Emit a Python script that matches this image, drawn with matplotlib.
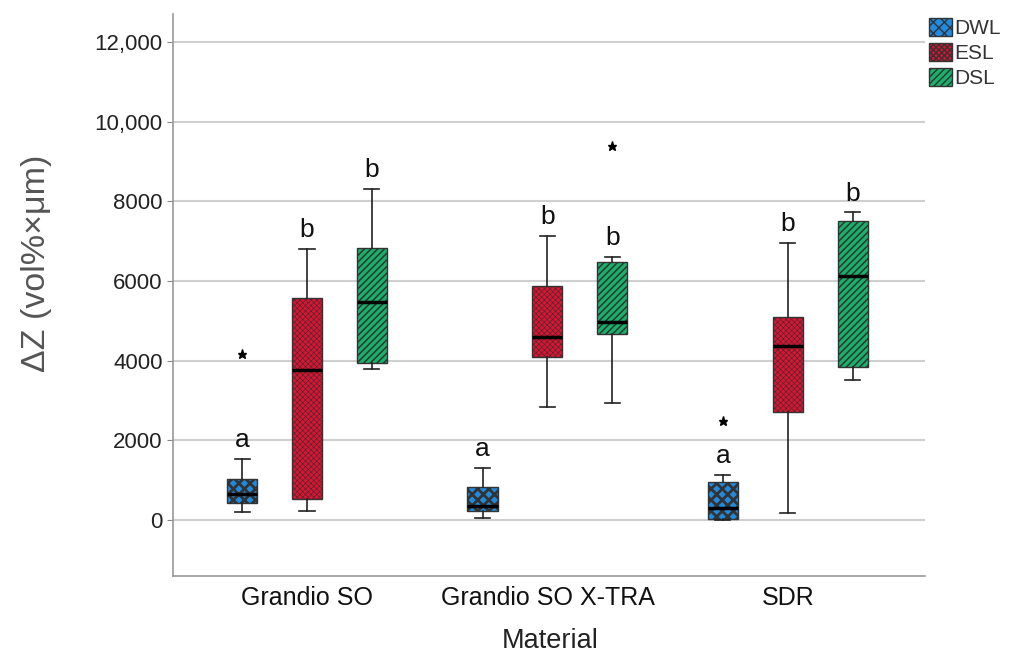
import matplotlib
matplotlib.use("Agg")
import matplotlib.pyplot as plt
from matplotlib.patches import Patch

plt.rcParams['font.family'] = ['Liberation Sans', 'DejaVu Sans']

materials = ["Grandio SO", "Grandio SO X-TRA", "SDR"]
groups = ["DWL", "ESL", "DSL"]

# per group, per material: [whislo, q1, med, q3, whishi]
dwl_stats = [[200, 430, 650, 1030, 1530],
             [60, 225, 350, 835, 1300],
             [0, 25, 310, 960, 1130]]
esl_stats = [[225, 525, 3765, 5570, 6800],
             [2830, 4100, 4590, 5880, 7130],
             [170, 2700, 4380, 5090, 6960]]
dsl_stats = [[3790, 3940, 5470, 6820, 8310],
             [2930, 4670, 4980, 6480, 6610],
             [3510, 3850, 6130, 7510, 7720]]
dwl_fliers = [[4170], [], [2490]]
esl_fliers = [[], [], []]
dsl_fliers = [[], [9390], []]
dwl_letters = ["a", "a", "a"]
esl_letters = ["b", "b", "b"]
dsl_letters = ["b", "b", "b"]

ytick_vals = [0, 2000, 4000, 6000, 8000, 10000, 12000]
ytick_labels = ["0", "2000", "4000", "6000", "8000", "10,000", "12,000"]

colors = ["#1f8be0", "#e3102f", "#17b36b"]
hatches = ["xxx", "xxxxxx", "/////"]
hatchcolors = ["#0a0a0a", "#8a0a1a", "#0a2a18"]
hatchlws = [2.0, 0.45, 1.1]

all_stats = [dwl_stats, esl_stats, dsl_stats]
all_fliers = [dwl_fliers, esl_fliers, dsl_fliers]
all_letters = [dwl_letters, esl_letters, dsl_letters]


def style_hatch(p, gi):
    try:
        p.set_hatchcolor(hatchcolors[gi])
    except Exception:
        pass
    try:
        p.set_hatch_linewidth(hatchlws[gi])
    except Exception:
        pass


fig = plt.figure(figsize=(10.12, 6.55), dpi=100)
ax = fig.add_axes([0.171, 0.1206, 0.743, 0.858])

offsets = [-0.27, 0.0, 0.27]
width = 0.125
for gi, (stats, fl, letters) in enumerate(zip(all_stats, all_fliers, all_letters)):
    bstats = []
    for s, f in zip(stats, fl):
        bstats.append(dict(whislo=s[0], q1=s[1], med=s[2], q3=s[3], whishi=s[4], fliers=f))
    pos = [i + 1 + offsets[gi] for i in range(len(materials))]
    with plt.rc_context({'hatch.linewidth': hatchlws[gi], 'hatch.color': hatchcolors[gi]}):
        res = ax.bxp(bstats, positions=pos, widths=width, patch_artist=True,
                     showfliers=True,
                     boxprops=dict(facecolor=colors[gi], edgecolor="#333333", linewidth=1.0,
                                   hatch=hatches[gi]),
                     medianprops=dict(color="black", linewidth=2.5),
                     whiskerprops=dict(color="#222222", linewidth=1.2),
                     capprops=dict(color="#222222", linewidth=1.2),
                     capwidths=width * 0.5,
                     flierprops=dict(marker="*", markersize=6.5, markerfacecolor="black",
                                     markeredgecolor="black", linestyle="none"))
        for b in res["boxes"]:
            style_hatch(b, gi)
    for p, s, lt in zip(pos, stats, letters):
        ax.annotate(lt, xy=(p, s[4]), xytext=(0, 5), textcoords="offset points",
                    ha="center", va="bottom", fontsize=19, color="#111111")

ax.set_xlim(0.443, 3.57)
ax.set_ylim(-1406, 12703)
ax.set_yticks(ytick_vals)
ax.set_yticklabels(ytick_labels)
ax.set_xticks([1, 2, 3])
ax.set_xticklabels(materials)
ax.tick_params(axis="x", length=0, labelsize=18, pad=7, labelcolor="#111111")
ax.tick_params(axis="y", length=4, labelsize=16, color="#888888", labelcolor="#222222")
ax.yaxis.grid(True, color="#cfcfcf", linewidth=1.5)
ax.set_axisbelow(True)
for sp in ["top", "right"]:
    ax.spines[sp].set_visible(False)
for sp in ["left", "bottom"]:
    ax.spines[sp].set_color("#999999")
    ax.spines[sp].set_linewidth(1.2)

ax.set_ylabel("ΔZ (vol%×μm)", fontsize=24.5, color="#555555")
ax.yaxis.set_label_coords(-0.161, 0.557)
ax.set_xlabel("Material", fontsize=19.5, color="#222222", va="top")
ax.xaxis.set_label_coords(0.501, -0.092)

handles = []
for gi, g in enumerate(groups):
    with plt.rc_context({'hatch.linewidth': hatchlws[gi], 'hatch.color': hatchcolors[gi]}):
        p = Patch(facecolor=colors[gi], edgecolor="#333333", hatch=hatches[gi], label=g)
        style_hatch(p, gi)
    handles.append(p)
leg = fig.legend(handles=handles, loc="upper left", bbox_to_anchor=(0.918, 0.972),
                 frameon=False, fontsize=15, handlelength=1.1, handleheight=0.95,
                 handletextpad=0.1, labelspacing=0.22, borderaxespad=0, borderpad=0)
for t in leg.get_texts():
    t.set_color("#333333")

fig.savefig("out.png", dpi=100)
